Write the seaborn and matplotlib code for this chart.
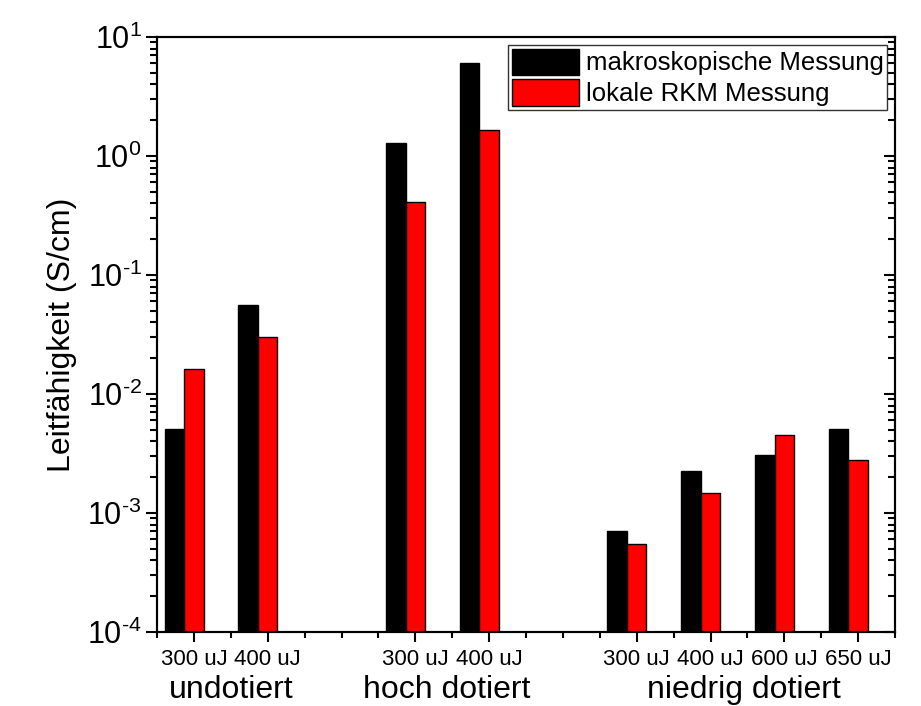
import numpy as np
import pandas as pd
import matplotlib
matplotlib.use("Agg")
import matplotlib.pyplot as plt
import seaborn as sns
from matplotlib.patches import Patch
from matplotlib.ticker import LogLocator, FixedLocator, NullFormatter, FuncFormatter

# ---------------- data ----------------
groups = ["undotiert", "hoch dotiert", "niedrig dotiert"]
energies = ["300 uJ", "400 uJ", "300 uJ", "400 uJ", "300 uJ", "400 uJ", "600 uJ", "650 uJ"]
group_index = [0, 0, 1, 1, 2, 2, 2, 2]
series = ["makroskopische Messung", "lokale RKM Messung"]
makroskopisch = [5.1e-3, 0.056, 1.28, 6.0, 7.1e-4, 2.25e-3, 3.05e-3, 5.1e-3]
lokal_rkm = [0.0161, 0.0303, 0.41, 1.65, 5.5e-4, 1.48e-3, 4.55e-3, 2.8e-3]

# ---------------- layout ----------------
tick_pos = [1, 3, 7, 9, 13, 15, 17, 19]
pair_shift = -0.265
group_text_x = [2.0, 7.85, 15.9]
colors = ["#000000", "#FF0000"]

sns.set_style("ticks")
plt.rcParams["font.family"] = ["Liberation Sans", "DejaVu Sans"]
plt.rcParams["mathtext.fontset"] = "custom"
plt.rcParams["mathtext.rm"] = "Liberation Sans"
plt.rcParams["mathtext.it"] = "Liberation Sans:italic"
plt.rcParams["mathtext.default"] = "regular"
plt.rcParams["axes.unicode_minus"] = False
plt.rcParams["text.color"] = "black"
plt.rcParams["axes.labelcolor"] = "black"
plt.rcParams["xtick.color"] = "black"
plt.rcParams["ytick.color"] = "black"
plt.rcParams["xtick.labelcolor"] = "black"
plt.rcParams["ytick.labelcolor"] = "black"

rows = []
for i, e in enumerate(energies):
    p = tick_pos[i] + pair_shift
    rows.append({"pos": p, "series": series[0], "value": makroskopisch[i]})
    rows.append({"pos": p, "series": series[1], "value": lokal_rkm[i]})
df = pd.DataFrame(rows)

fig = plt.figure(figsize=(9.21, 7.06), dpi=100)
ax = fig.add_axes([157 / 921, 74 / 706, 738 / 921, 595 / 706])
ax.set_yscale("log")

sns.barplot(data=df, x="pos", y="value", hue="series", hue_order=series,
            palette=colors, native_scale=True, width=0.53, dodge=True,
            saturation=1, edgecolor="black", linewidth=1, errorbar=None,
            legend=False, ax=ax)

ax.set_xlim(0, 20)
ax.set_ylim(1e-4, 10)

# x ticks
ax.xaxis.set_major_locator(FixedLocator(tick_pos))
ax.set_xticklabels(energies, fontsize=16)
ax.xaxis.set_minor_locator(FixedLocator([v for v in range(0, 21) if v not in tick_pos]))
ax.set_xlabel("")
ax.tick_params(axis="x", which="major", direction="out", length=7, width=1.5, pad=5)
ax.tick_params(axis="x", which="minor", direction="out", length=4.5, width=1.5)


def pow_label(v, _pos):
    e = int(round(np.log10(v)))
    if e < 0:
        return r"$10^{\text{-}%d}$" % (-e)
    return r"$10^{%d}$" % e


# y ticks (left, outward)
ax.yaxis.set_major_locator(LogLocator(base=10, numticks=10))
ax.yaxis.set_minor_locator(LogLocator(base=10, subs=np.arange(2, 10), numticks=10))
ax.yaxis.set_minor_formatter(NullFormatter())
ax.yaxis.set_major_formatter(FuncFormatter(pow_label))
ax.tick_params(axis="y", which="major", direction="out", length=8, width=1.5, pad=3, labelsize=22)
ax.tick_params(axis="y", which="minor", direction="out", length=5, width=1.5)
ax.set_ylabel("Leitfähigkeit (S/cm)", fontsize=23, color="black")
ax.yaxis.set_label_coords(-0.108, 0.5)

for s in ax.spines.values():
    s.set_linewidth(1.5)
    s.set_color("black")
    s.set_visible(True)

# right spine ticks (inward)
ax2 = ax.twinx()
ax2.set_yscale("log")
ax2.set_ylim(1e-4, 10)
ax2.yaxis.set_major_locator(LogLocator(base=10, numticks=10))
ax2.yaxis.set_minor_locator(LogLocator(base=10, subs=np.arange(2, 10), numticks=10))
ax2.tick_params(axis="y", which="major", direction="in", length=8, width=1.5, labelright=False)
ax2.tick_params(axis="y", which="minor", direction="in", length=5, width=1.5)
for s in ax2.spines.values():
    s.set_linewidth(1.5)
    s.set_color("black")

# group labels
trans = matplotlib.transforms.blended_transform_factory(ax.transData, fig.transFigure)
for gx, g in zip(group_text_x, groups):
    fig.text(gx, 8 / 706, g, transform=trans, ha="center", va="baseline",
             fontsize=23, color="black")

# legend
handles = [Patch(facecolor=c, edgecolor="black", linewidth=1) for c in colors]
leg = ax2.legend(handles, series, loc="upper right", fontsize=18.5, frameon=True,
                 fancybox=False, borderaxespad=0.3, borderpad=0.15,
                 handlelength=2.6, handleheight=1.2, handletextpad=0.25,
                 labelspacing=0.15)
leg.get_frame().set_edgecolor("black")
leg.get_frame().set_linewidth(1.0)
for t in leg.get_texts():
    t.set_color("black")

fig.savefig("out.png", dpi=100)
